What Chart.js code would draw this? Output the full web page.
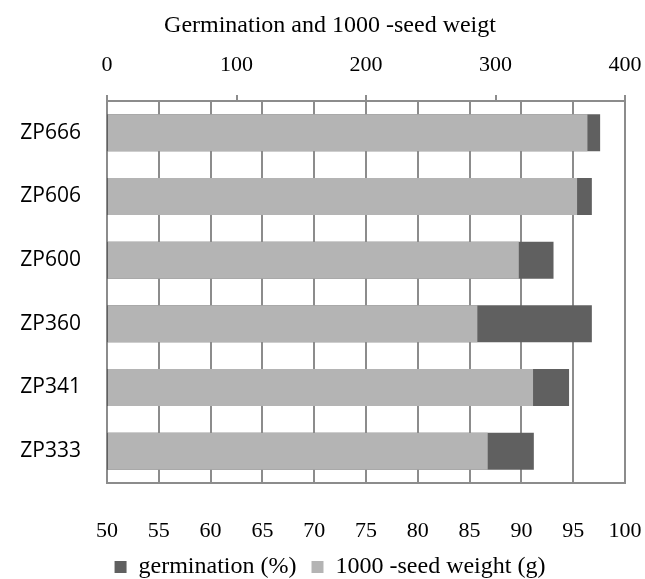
<!DOCTYPE html>
<html>
<head>
<meta charset="utf-8">
<script src="https://cdn.jsdelivr.net/npm/chart.js@4.4.1/dist/chart.umd.min.js"></script>
<style>
  html, body { margin: 0; padding: 0; background: #fff; }
</style>
</head>
<body>
<canvas id="seedChart" width="645" height="579"></canvas>
<script>
const hybrids = ['ZP666', 'ZP606', 'ZP600', 'ZP360', 'ZP341', 'ZP333'];
const germination = [97.6, 96.8, 93.1, 96.8, 94.6, 91.2];   // %
const seedWeight = [371, 363, 318, 286, 329, 294];           // g

// axis ranges
const germRange = { min: 50, max: 100, step: 5 };
const weightRange = { min: 0, max: 400, step: 100 };

const serif = 'Liberation Serif';
const axisGray = '#8c8c8c';

// keep the plot box fixed, no auto padding for edge labels
function noEdgePad(s) {
    s.paddingLeft = 0;
    s.paddingRight = 0;
    s.paddingTop = 0;
    s.paddingBottom = 0;
}

const ctx = document.getElementById('seedChart');

new Chart(ctx, {
    type: 'bar',
    data: {
        labels: hybrids,
        datasets: [
            {
                label: 'germination (%)',
                data: germination,
                xAxisID: 'x',
                backgroundColor: '#606060',
                grouped: false,
                order: 2
            },
            {
                label: '1000 -seed weight (g)',
                data: seedWeight,
                xAxisID: 'x2',
                backgroundColor: '#b4b4b4',
                grouped: false,
                order: 1
            }
        ]
    },
    options: {
        indexAxis: 'y',
        responsive: false,
        animation: false,
        devicePixelRatio: 1,
        barPercentage: 0.58,
        categoryPercentage: 1,
        layout: { padding: { left: 15, right: 0, top: 0, bottom: -10 } },
        scales: {
            x: {
                position: 'bottom',
                min: germRange.min,
                max: germRange.max,
                ticks: {
                    stepSize: germRange.step,
                    autoSkip: false,
                    maxRotation: 0,
                    padding: 35,
                    color: '#000',
                    font: { family: serif, size: 22 }
                },
                grid: { color: axisGray, lineWidth: 2, drawTicks: false },
                border: { color: axisGray, width: 2 },
                afterFit: (s) => {
                    noEdgePad(s);
                    s.height = 57;
                }
            },
            x2: {
                position: 'top',
                min: weightRange.min,
                max: weightRange.max,
                ticks: {
                    stepSize: weightRange.step,
                    maxRotation: 0,
                    padding: 17,
                    color: '#000',
                    font: { family: serif, size: 22 }
                },
                grid: { drawOnChartArea: false, tickLength: 6, color: axisGray, lineWidth: 2 },
                border: { color: axisGray, width: 2 },
                afterFit: (s) => {
                    noEdgePad(s);
                    s.height = 101 - s.chart.titleBlock.height;
                }
            },
            y: {
                ticks: {
                    padding: 26,
                    color: '#000',
                    font: { family: 'Open Sans', size: 21 }
                },
                grid: { display: false, drawTicks: false },
                border: { color: axisGray, width: 2 },
                afterFit: (s) => {
                    noEdgePad(s);
                    s.width = 92;
                }
            },
            // empty strip on the right, keeps the plot off the edge
            yRight: {
                type: 'category',
                position: 'right',
                ticks: { display: false },
                grid: { display: false, drawTicks: false },
                border: { display: false },
                afterFit: (s) => {
                    noEdgePad(s);
                    s.width = 20;
                }
            }
        },
        plugins: {
            title: {
                display: true,
                text: 'Germination and 1000 -seed weigt',
                color: '#000',
                font: { family: serif, size: 24, weight: 'normal' },
                padding: { top: 11, bottom: 0 }
            },
            legend: {
                position: 'bottom',
                labels: {
                    boxWidth: 12,
                    boxHeight: 12,
                    padding: 15,
                    color: '#000',
                    font: { family: serif, size: 24 },
                    sort: (a, b) => a.datasetIndex - b.datasetIndex
                }
            },
            tooltip: { enabled: false }
        }
    }
});
</script>
</body>
</html>
